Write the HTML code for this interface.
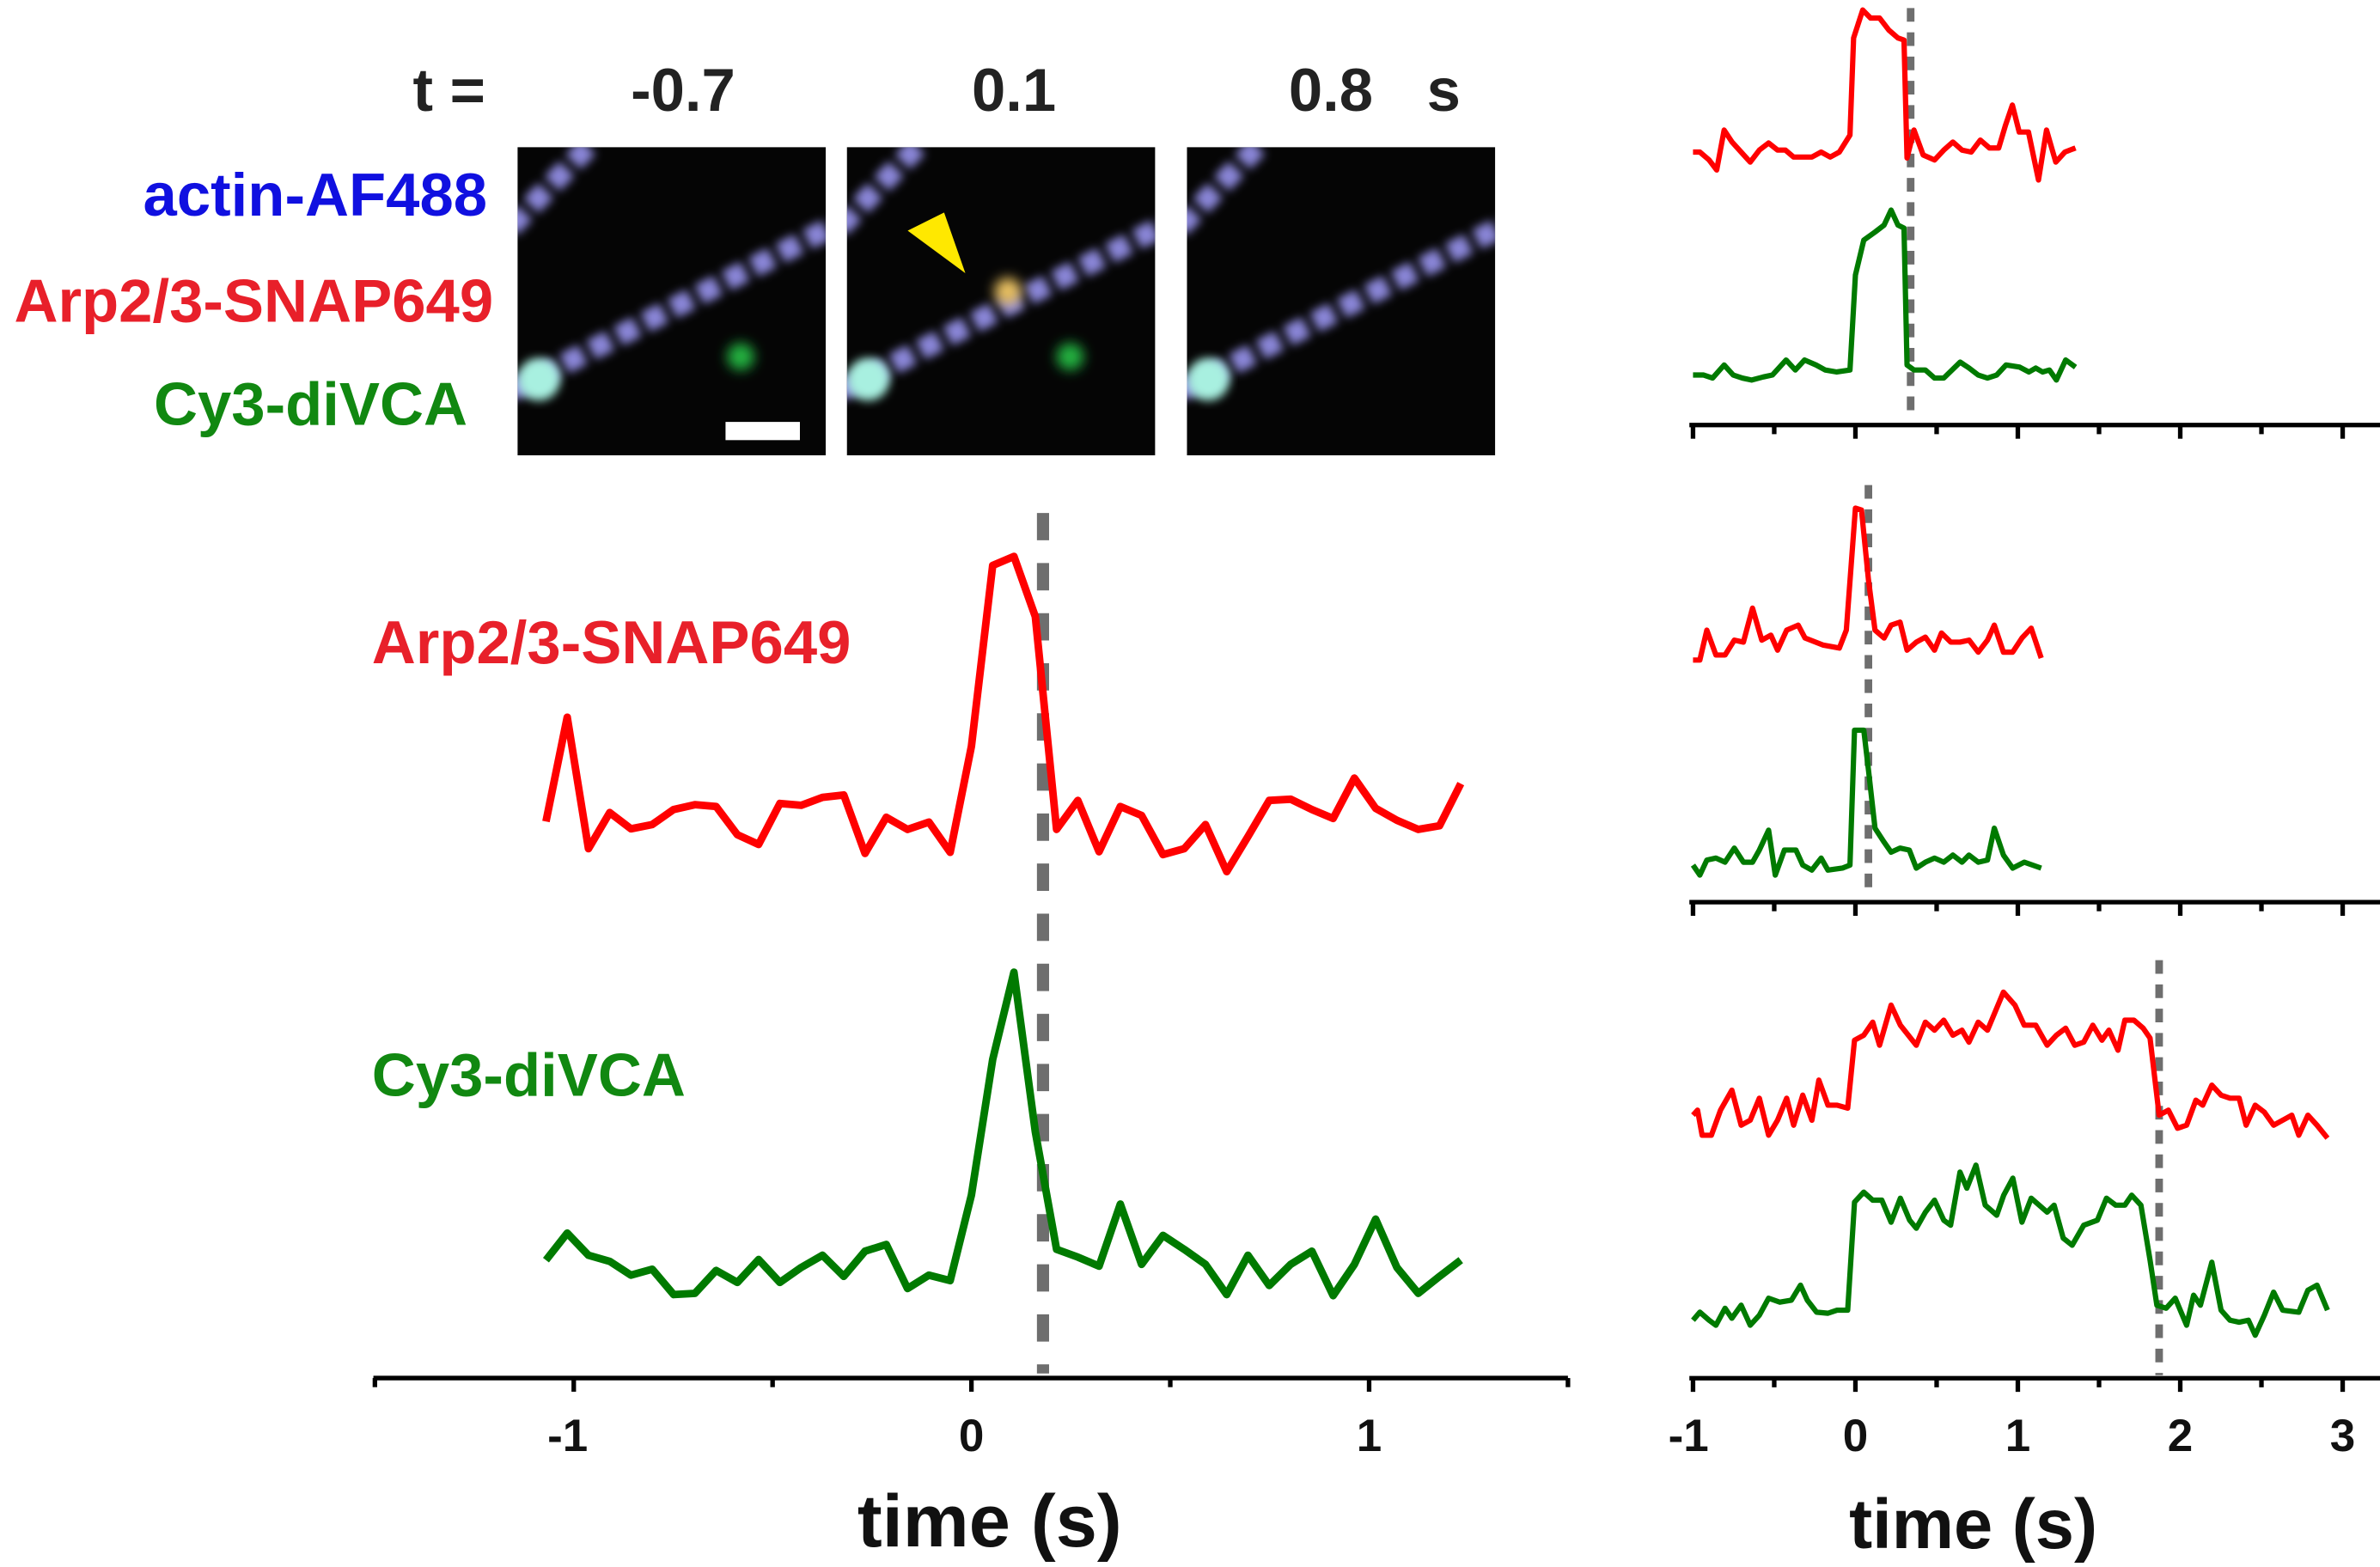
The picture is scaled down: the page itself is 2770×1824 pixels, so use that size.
<!DOCTYPE html>
<html><head><meta charset="utf-8"><style>
html,body{margin:0;padding:0;background:#fff;}
svg{display:block;}
text{font-family:"Liberation Sans",Arial,sans-serif;font-weight:bold;}
</style></head><body>
<svg id="fig" width="2770" height="1824" viewBox="0 0 1568 1032.5" preserveAspectRatio="none" xmlns="http://www.w3.org/2000/svg">
<defs>
<filter id="blur" x="-20%" y="-20%" width="140%" height="140%"><feGaussianBlur stdDeviation="3"/></filter>
<filter id="blur2" x="-50%" y="-50%" width="200%" height="200%"><feGaussianBlur stdDeviation="4"/></filter>
</defs>
<text x="272" y="73" font-size="40" fill="#222">t =</text>
<text x="450" y="73" font-size="40" fill="#222" text-anchor="middle">-0.7</text>
<text x="668" y="73" font-size="40" fill="#222" text-anchor="middle">0.1</text>
<text x="849" y="73" font-size="40" fill="#222">0.8</text>
<text x="940" y="73" font-size="40" fill="#222">s</text>
<text x="321" y="142" font-size="40" fill="#1010e0" text-anchor="end">actin-AF488</text>
<text x="325" y="212" font-size="40" fill="#e8202a" text-anchor="end">Arp2/3-SNAP649</text>
<text x="308" y="280" font-size="40" fill="#118811" text-anchor="end">Cy3-diVCA</text>
<g id="images"></g>
<g id="main"></g>
<g id="right"></g>
</svg>
<script>
const NS="http://www.w3.org/2000/svg";
const svg=document.getElementById('fig');
function mk(tag,attrs,parent){const e=document.createElementNS(NS,tag);for(const k in attrs)e.setAttribute(k,attrs[k]);(parent||svg).appendChild(e);return e;}

// ---------- microscopy panels ----------
const panelX=[341,558,782];
const imgs=document.getElementById('images');
panelX.forEach((px,i)=>{
  const g=mk('g',{},imgs);
  
  
  mk('rect',{x:px,y:97,width:203,height:203,fill:'#050505'},g);
  const cp=mk('clipPath',{id:'cp'+i},g);
  mk('rect',{x:px,y:97,width:203,height:203},cp);
  const inner=mk('g',{'clip-path':'url(#cp'+i+')'},g);
  mk('line',{x1:px-5,y1:258,x2:px+210,y2:148,stroke:'#8a86d8','stroke-width':14,'stroke-dasharray':'14 6',filter:'url(#blur)'},inner);
  mk('line',{x1:px-5,y1:150,x2:px+48,y2:95,stroke:'#8a86d8','stroke-width':14,'stroke-dasharray':'14 6',filter:'url(#blur)'},inner);
  mk('circle',{cx:px+14,cy:250,r:14,fill:'#a8f0e0',filter:'url(#blur)'},inner);
  if(i<2) mk('circle',{cx:px+147,cy:235,r:9,fill:'#20b040',filter:'url(#blur2)'},inner);
  if(i===1){
    mk('circle',{cx:px+106,cy:192,r:9,fill:'#e8c060',filter:'url(#blur2)'},inner);
    const tri=mk('polygon',{points:`${px+40},${152} ${px+64},${140} ${px+78},${180}`,fill:'#ffe800'},g);
    
    
  }
  if(i===0){
    const sb=mk('rect',{x:478,y:278,width:49,height:12,fill:'#fff'},g);
    
    
  }
});

// ---------- main chart data ----------
const mainT0=-1.07, mainDt=0.0535;
const mainRed=[85,258,40,100,73,80,105,113,110,63,47,115,112,125,129,32,92,72,84,34,210,510,525,425,72,120,35,110,95,30,40,80,2,60,120,122,105,90,157,107,87,72,78,148];
const mainGreen=[67,112,75,65,42,52,10,12,50,30,68,30,55,75,40,82,93,20,42,33,175,400,545,280,85,72,57,160,60,108,85,60,10,75,25,60,82,8,60,135,55,12,40,67];
const mainTicks=[-1,0,1];
const mainEventTime=0.18;

const mX=t=>640+t*262;
const mRedY=v=>317+(650-v)*0.397;
const mGreenY=v=>317+(1360-v)*0.397;
const main=document.getElementById('main');

const t1=mk('text',{x:245,y:437,'font-size':40,fill:'#e8202a'},main);t1.textContent='Arp2/3-SNAP649';

const t2=mk('text',{x:245,y:722,'font-size':40,fill:'#118811'},main);t2.textContent='Cy3-diVCA';


const dl=mk('line',{x1:mX(mainEventTime),y1:338,x2:mX(mainEventTime),y2:905,stroke:'#6e6e6e','stroke-width':8,'stroke-dasharray':'18 15'},main);


function pts(arr,xf,yf,tf){return arr.map((v,i)=>xf(tf(i)).toFixed(1)+','+yf(v).toFixed(1)).join(' ');}
const mt=i=>mainT0+i*mainDt;
const rl=mk('polyline',{points:pts(mainRed,mX,mRedY,mt),fill:'none',stroke:'#ff0000','stroke-width':5,'stroke-linejoin':'round'},main);

const gl=mk('polyline',{points:pts(mainGreen,mX,mGreenY,mt),fill:'none',stroke:'#007a00','stroke-width':5,'stroke-linejoin':'round'},main);


const ax=mk('line',{x1:246,y1:908,x2:1033,y2:908,stroke:'#000','stroke-width':3},main);

for(let t=-1.5;t<=1.5001;t+=0.5){
  const isMaj=Math.abs(t-Math.round(t))<1e-6;
  const tk=mk('line',{x1:mX(t),y1:908,x2:mX(t),y2:isMaj?917:914,stroke:'#000','stroke-width':3},main);
  
}
mainTicks.forEach(v=>{
  const tl=mk('text',{x:mX(v)-(v<0?4:0),y:956,'font-size':30,fill:'#111','text-anchor':'middle'},main);
  tl.textContent=String(v);
  
});
const xt=mk('text',{x:652,y:1019,'font-size':49,fill:'#111','text-anchor':'middle'},main);xt.textContent='time (s)';


// ---------- right panels data ----------
const p1RedT=[-1,-0.958,-0.901,-0.854,-0.808,-0.76,-0.704,-0.648,-0.592,-0.535,-0.479,-0.431,-0.38,-0.324,-0.268,-0.211,-0.155,-0.099,-0.034,-0.011,0.045,0.093,0.149,0.206,0.262,0.299,0.318,0.361,0.417,0.487,0.544,0.6,0.656,0.713,0.769,0.825,0.882,0.924,0.966,1.008,1.065,1.127,1.177,1.234,1.29,1.355];
const p1RedV=[48,48,40,30,70,58,48,38,50,57,50,50,43,43,43,48,43,48,65,162,190,182,182,170,162,160,42,70,45,40,50,58,50,48,60,52,52,75,95,68,68,20,70,38,48,52];
const p1GreenT=[-1,-0.935,-0.879,-0.808,-0.752,-0.696,-0.639,-0.568,-0.511,-0.427,-0.37,-0.313,-0.242,-0.186,-0.115,-0.034,0,0.051,0.121,0.177,0.22,0.262,0.299,0.318,0.361,0.431,0.487,0.544,0.645,0.7,0.756,0.813,0.87,0.927,1.011,1.068,1.11,1.152,1.194,1.237,1.294,1.355];
const p1GreenV=[25,25,22,35,25,22,20,23,25,40,30,40,35,30,28,30,125,160,168,175,190,175,172,35,30,30,22,22,38,32,25,22,25,35,33,28,32,28,30,20,40,33];
const p2RedT=[-1,-0.958,-0.915,-0.859,-0.803,-0.746,-0.69,-0.634,-0.577,-0.521,-0.479,-0.423,-0.352,-0.31,-0.197,-0.099,-0.056,0,0.037,0.08,0.121,0.177,0.22,0.275,0.318,0.375,0.431,0.487,0.53,0.587,0.644,0.7,0.756,0.813,0.855,0.911,0.968,1.025,1.082,1.144];
const p2RedV=[40,40,70,45,45,60,58,92,60,65,50,70,75,62,55,52,70,192,190,120,70,62,75,78,50,58,63,50,67,58,58,60,48,60,75,48,48,62,72,42];
const p2GreenT=[-1,-0.958,-0.915,-0.859,-0.803,-0.746,-0.69,-0.634,-0.592,-0.535,-0.493,-0.437,-0.366,-0.324,-0.268,-0.211,-0.169,-0.08,-0.034,-0.006,0.051,0.08,0.121,0.177,0.22,0.275,0.332,0.375,0.431,0.487,0.544,0.6,0.656,0.699,0.756,0.813,0.855,0.911,0.968,1.039,1.144];
const p2GreenV=[35,25,40,42,38,52,38,38,50,70,25,50,50,35,30,42,30,32,35,170,170,130,72,58,48,52,50,32,38,42,38,45,38,45,38,40,72,45,32,38,32];
const p3RedT=[-1,-0.972,-0.944,-0.887,-0.831,-0.761,-0.704,-0.648,-0.592,-0.535,-0.479,-0.423,-0.38,-0.324,-0.268,-0.225,-0.169,-0.113,-0.048,-0.006,0.051,0.107,0.149,0.22,0.277,0.375,0.431,0.487,0.544,0.6,0.656,0.699,0.756,0.813,0.911,0.982,1.039,1.11,1.18,1.237,1.294,1.35,1.406,1.462,1.518,1.561,1.617,1.659,1.715,1.772,1.814,1.87,1.927,1.983,2.039,2.096,2.138,2.194,2.251,2.307,2.363,2.406,2.462,2.518,2.575,2.631,2.687,2.73,2.786,2.842,2.907];
const p3RedV=[35,40,15,15,40,60,25,30,52,15,30,52,25,55,30,70,45,45,42,110,115,128,105,145,125,105,128,120,130,115,120,108,128,120,158,145,125,125,105,115,122,105,108,125,110,120,100,130,130,122,112,35,40,22,25,50,45,65,55,52,52,25,45,38,25,30,35,15,35,25,12];
const p3GreenT=[-1,-0.958,-0.901,-0.859,-0.803,-0.761,-0.704,-0.648,-0.592,-0.535,-0.465,-0.394,-0.338,-0.296,-0.239,-0.169,-0.113,-0.048,-0.006,0.051,0.107,0.163,0.22,0.277,0.334,0.375,0.431,0.487,0.544,0.586,0.644,0.686,0.742,0.799,0.87,0.913,0.969,1.025,1.082,1.18,1.223,1.279,1.335,1.406,1.49,1.546,1.603,1.659,1.701,1.758,1.814,1.856,1.913,1.969,2.039,2.082,2.124,2.194,2.251,2.307,2.363,2.42,2.462,2.518,2.575,2.631,2.73,2.786,2.842,2.907];
const p3GreenV=[30,38,30,25,42,32,45,25,35,52,48,50,65,50,38,37,40,40,148,158,150,150,128,152,130,122,138,150,130,125,178,162,185,145,135,155,172,128,152,138,145,112,105,125,130,152,145,145,155,145,90,45,42,52,25,55,45,88,40,30,28,30,15,35,58,40,38,60,65,40];
const rightTicks=[-1,0,1,2,3];
const p1Event=0.34, p2Event=0.08, p3Event=1.87;

const rX=t=>1222.4+t*107;
const rY=zy=>zy*0.659;
const right=document.getElementById('right');
function rline(T,V,base,color,name,w){
  const p=T.map((t,i)=>rX(t).toFixed(1)+','+rY(base-V[i]).toFixed(1)).join(' ');
  const e=mk('polyline',{points:p,fill:'none',stroke:color,'stroke-width':w,'stroke-linejoin':'round'},right);
  
  
}
function rdash(t,z1,z2,name){
  const e=mk('line',{x1:rX(t),y1:rY(z1),x2:rX(t),y2:rY(z2),stroke:'#6e6e6e','stroke-width':5,'stroke-dasharray':'9 7'},right);
  
  
}
function raxis(zy,name){
  const y=rY(zy);
  const a=mk('line',{x1:1113,y1:y,x2:1568,y2:y,stroke:'#000','stroke-width':3},right);
  
  
  for(let t=-1;t<=3.001;t+=0.5){
    const maj=Math.abs(t-Math.round(t))<1e-6;
    const tk=mk('line',{x1:rX(t),y1:y,x2:rX(t),y2:y+(maj?9:6),stroke:'#000','stroke-width':3},right);
    
    
  }
}
rdash(p1Event,8,420,'panel1-event-line');
rdash(p2Event,485,895,'panel2-event-line');
rdash(p3Event,960,1375,'panel3-event-line');
rline(p1RedT,p1RedV,200,'#ff0000','panel1-arp-line',3.5);
rline(p1GreenT,p1GreenV,400,'#007a00','panel1-cy3-line',3.5);
rline(p2RedT,p2RedV,700,'#ff0000','panel2-arp-line',3.5);
rline(p2GreenT,p2GreenV,900,'#007a00','panel2-cy3-line',3.5);
rline(p3RedT,p3RedV,1150,'#ff0000','panel3-arp-line',3.5);
rline(p3GreenT,p3GreenV,1350,'#007a00','panel3-cy3-line',3.5);
raxis(425,'panel1-x-axis');
raxis(902,'panel2-x-axis');
raxis(1378,'panel3-x-axis');
rightTicks.forEach(v=>{
  const tl=mk('text',{x:rX(v)-(v<0?3:0),y:956,'font-size':30,fill:'#111','text-anchor':'middle'},right);
  tl.textContent=String(v);
  
  
});
const rt=mk('text',{x:1300,y:1020,'font-size':46,fill:'#111','text-anchor':'middle'},right);
rt.textContent='time (s)';


</script>
</body></html>
